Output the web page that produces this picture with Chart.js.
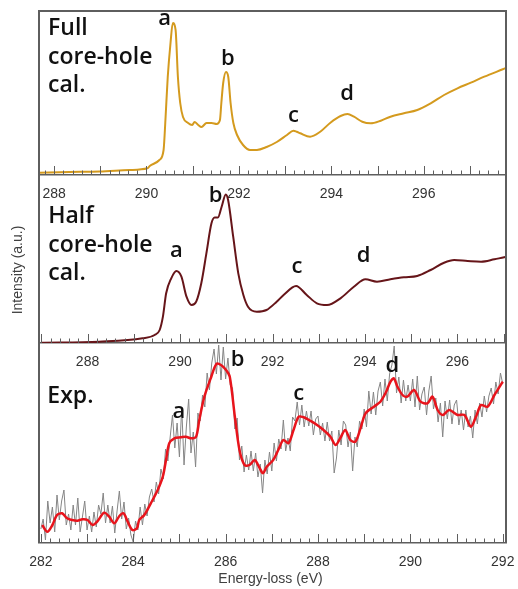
<!DOCTYPE html>
<html>
<head>
<meta charset="utf-8">
<script src="https://cdn.jsdelivr.net/npm/chart.js@4.4.1/dist/chart.umd.min.js"></script>
<style>
  html, body { margin: 0; padding: 0; background: #fff; }
  #wrap { position: relative; width: 518px; height: 589px; }
  canvas { display: block; }
</style>
</head>
<body>
<div id="wrap"><canvas id="chart" width="518" height="589"></canvas></div>
<script>
// ---- Full core-hole calculation (energy in eV, intensity in a.u.) ----
const fullEnergy = [287.67, 288.33, 288.98, 289.63, 290.02, 290.07, 290.28, 290.37, 290.41, 290.46,
  290.52, 290.57, 290.63, 290.68, 290.73, 290.79, 290.90, 290.99, 291.04, 291.12,
  291.19, 291.30, 291.41, 291.52, 291.59, 291.62, 291.66, 291.72, 291.77, 291.82,
  291.88, 291.96, 292.09, 292.24, 292.39, 292.60, 292.82, 293.04, 293.18, 293.25,
  293.33, 293.54, 293.76, 293.98, 294.20, 294.35, 294.49, 294.67, 294.85, 295.07,
  295.28, 295.57, 295.86, 296.15, 296.44, 296.73, 297.02, 297.31, 297.71, 297.78];
const fullIntensity = [0.023, 0.03, 0.035, 0.05, 0.067, 0.09, 0.15, 0.25, 0.55, 0.98,
  1.32, 1.52, 1.45, 0.98, 0.72, 0.58, 0.52, 0.50, 0.53, 0.50,
  0.48, 0.52, 0.52, 0.51, 0.55, 0.72, 0.92, 1.03, 0.98, 0.72,
  0.52, 0.40, 0.30, 0.25, 0.25, 0.28, 0.33, 0.40, 0.443, 0.433,
  0.417, 0.383, 0.433, 0.523, 0.59, 0.61, 0.583, 0.533, 0.517, 0.543,
  0.583, 0.617, 0.65, 0.717, 0.80, 0.867, 0.923, 0.983, 1.057, 1.07];

// ---- Half core-hole calculation ----
const halfEnergy = [286.99, 288.25, 289.19, 289.45, 289.56, 289.63, 289.70, 289.81, 289.92, 290.03,
  290.14, 290.25, 290.35, 290.46, 290.57, 290.68, 290.75, 290.82, 290.90, 290.99,
  291.04, 291.15, 291.26, 291.37, 291.47, 291.66, 291.87, 292.09, 292.24, 292.51,
  292.74, 292.96, 293.18, 293.47, 293.76, 294.01, 294.26, 294.55, 294.84, 295.13,
  295.42, 295.71, 295.93, 296.22, 296.51, 296.80, 297.01, 297.05];
const halfIntensity = [0.003, 0.013, 0.047, 0.08, 0.13, 0.263, 0.497, 0.647, 0.72, 0.663,
  0.463, 0.38, 0.413, 0.597, 0.897, 1.197, 1.255, 1.255, 1.363, 1.485,
  1.43, 1.063, 0.697, 0.48, 0.363, 0.313, 0.33, 0.413, 0.48, 0.57,
  0.48, 0.397, 0.38, 0.447, 0.563, 0.637, 0.613, 0.637, 0.657, 0.67,
  0.73, 0.803, 0.83, 0.82, 0.813, 0.837, 0.857, 0.86];

// ---- Experiment: smoothed spectrum ----
const expSmoothEnergy = [282.03, 282.14, 282.25, 282.35, 282.46, 282.57, 282.68, 282.79, 282.90, 283.01,
  283.12, 283.22, 283.37, 283.48, 283.59, 283.70, 283.79, 283.88, 283.98, 284.08,
  284.13, 284.24, 284.38, 284.53, 284.64, 284.71, 284.78, 284.89, 285.03, 285.14,
  285.25, 285.36, 285.43, 285.54, 285.69, 285.80, 285.90, 286.01, 286.09, 286.20,
  286.30, 286.41, 286.52, 286.63, 286.74, 286.81, 286.89, 287.03, 287.14, 287.25,
  287.36, 287.47, 287.58, 287.69, 287.83, 287.98, 288.12, 288.27, 288.38, 288.48,
  288.59, 288.70, 288.81, 288.92, 289.03, 289.21, 289.35, 289.46, 289.57, 289.64,
  289.72, 289.83, 289.93, 290.08, 290.22, 290.37, 290.48, 290.59, 290.70, 290.84,
  291.02, 291.17, 291.31, 291.42, 291.53, 291.67, 291.82, 292.00];
const expSmoothIntensity = [0.18, 0.113, 0.18, 0.28, 0.297, 0.247, 0.23, 0.223, 0.237, 0.23,
  0.18, 0.213, 0.303, 0.263, 0.197, 0.27, 0.297, 0.213, 0.13, 0.147,
  0.23, 0.28, 0.397, 0.53, 0.663, 0.83, 0.997, 1.047, 1.057, 1.063,
  1.047, 1.063, 1.23, 1.463, 1.663, 1.79, 1.78, 1.73, 1.663, 1.263,
  0.93, 0.78, 0.78, 0.83, 0.747, 0.697, 0.763, 0.83, 0.93, 1.03,
  0.997, 1.13, 1.263, 1.257, 1.223, 1.18, 1.13, 1.063, 0.98, 1.047,
  1.13, 1.03, 1.013, 1.147, 1.297, 1.363, 1.413, 1.497, 1.613, 1.647,
  1.563, 1.48, 1.463, 1.53, 1.413, 1.397, 1.463, 1.33, 1.28, 1.33,
  1.28, 1.28, 1.163, 1.263, 1.38, 1.363, 1.48, 1.613];

// ---- Experiment: raw spectrum, sampled every 0.05 eV from 282 eV ----
const expRawStart = 282.0;
const expRawStep = 0.05;
const expRawIntensity = [
  0.14, 0.24, 0.03, 0.42, 0.20, 0.36, 0.11, 0.48, 0.23, 0.42,
  0.53, 0.18, 0.29, 0.13, 0.38, 0.18, 0.45, 0.11, 0.26, 0.42,
  0.13, 0.27, 0.11, 0.31, 0.16, 0.38, 0.29, 0.50, 0.20, 0.38,
  0.20, 0.37, 0.10, 0.32, 0.52, 0.24, 0.41, 0.14, 0.25, 0.08,
  0.01, 0.22, 0.13, 0.36, 0.18, 0.39, 0.27, 0.46, 0.54, 0.41,
  0.61, 0.49, 0.74, 0.64, 0.94, 0.82, 1.06, 1.28, 0.95, 1.20,
  0.86, 1.36, 0.78, 1.16, 1.44, 0.90, 1.11, 0.76, 1.30, 1.22,
  1.48, 1.36, 1.70, 1.53, 1.80, 1.94, 1.69, 1.98, 1.63, 1.96,
  1.64, 1.85, 1.58, 1.55, 1.14, 1.25, 0.83, 0.97, 0.71, 0.88,
  0.73, 0.92, 0.72, 0.90, 0.66, 0.79, 0.50, 0.83, 0.69, 0.91,
  0.72, 1.00, 0.82, 1.04, 0.94, 1.23, 0.92, 1.05, 0.92, 1.26,
  1.22, 1.41, 1.18, 1.38, 1.16, 1.32, 1.17, 1.32, 1.08, 1.24,
  1.27, 1.08, 1.20, 1.02, 1.21, 1.02, 1.12, 0.70, 0.85, 1.13,
  0.98, 1.22, 1.18, 0.96, 1.11, 0.72, 1.06, 0.96, 1.22, 1.14,
  1.34, 1.16, 1.52, 1.29, 1.51, 1.28, 1.52, 1.61, 1.37, 1.64,
  1.42, 1.69, 1.78, 1.97, 1.50, 1.66, 1.40, 1.63, 1.42, 1.58,
  1.42, 1.64, 1.36, 1.67, 1.33, 1.49, 1.56, 1.28, 1.52, 1.67,
  1.34, 1.45, 1.21, 1.40, 1.06, 1.42, 1.24, 1.43, 1.19, 1.38,
  1.43, 1.18, 1.33, 1.13, 1.33, 1.16, 1.27, 1.05, 1.33, 1.19,
  1.40, 1.26, 1.47, 1.31, 1.47, 1.55, 1.39, 1.61, 1.49, 1.70,
  1.59];

// ---- Axis tick labels ----
const calcTicks = [288, 290, 292, 294, 296];
const expTicks = [282, 284, 286, 288, 290, 292];

// ---- Text ----
const panelTitles = [['Full', 'core-hole', 'cal.'], ['Half', 'core-hole', 'cal.'], ['Exp.']];
const peakLetters = ['a', 'b', 'c', 'd'];
const xTitle = 'Energy-loss (eV)';
const yTitle = 'Intensity (a.u.)';

// Where each panel's text sits, in that panel's data units
const panelLayout = [
  { x: 'xTop', y: 'yTop', title: [287.87, 1.40],
    peaks: [[290.39, 1.50], [291.76, 1.10], [293.18, 0.533], [294.34, 0.75]] },
  { x: 'xMid', y: 'yMid', title: [287.15, 1.197],
    peaks: [[289.92, 0.863], [290.77, 1.413], [292.53, 0.697], [293.97, 0.813]] },
  { x: 'xBot', y: 'yBot', title: [282.14, 1.397],
    peaks: [[284.99, 1.247], [286.26, 1.77], [287.58, 1.43], [289.61, 1.713]] }
];

const pairs = (xs, ys) => xs.map((x, i) => ({ x, y: ys[i] }));
const rawPoints = expRawIntensity.map((v, i) => ({ x: expRawStart + i * expRawStep, y: v }));

const FRAME = '#5e5e5e';
const TEXT_FONT = '"Open Sans", "DejaVu Sans", sans-serif';
const AXIS_FONT = '"Liberation Sans", Arial, sans-serif';

// Frame, inward tick marks, panel captions, peak letters and axis titles
const decorations = {
  id: 'decorations',
  afterDraw(chart) {
    const ctx = chart.ctx;
    const area = chart.chartArea;
    ctx.save();

    // tick marks pointing up from each panel's baseline
    ['xTop', 'xMid', 'xBot'].forEach((id, p) => {
      const sx = chart.scales[id];
      const sy = chart.scales[panelLayout[p].y];
      const base = sy.getPixelForValue(0);
      ctx.strokeStyle = FRAME;
      ctx.lineWidth = 1;
      const k0 = Math.ceil(sx.min * 5 - 1e-6);
      const k1 = Math.floor(sx.max * 5 + 1e-6);
      for (let k = k0; k <= k1; k++) {
        const px = Math.round(sx.getPixelForValue(k / 5)) + 0.5;
        const len = (k % 5 === 0) ? 9 : 4.5;
        ctx.beginPath();
        ctx.moveTo(px, base);
        ctx.lineTo(px, base - len);
        ctx.stroke();
      }
    });

    // outer frame (left, top, right)
    ctx.strokeStyle = FRAME;
    ctx.lineWidth = 2;
    ctx.beginPath();
    ctx.moveTo(area.left, area.bottom);
    ctx.lineTo(area.left, area.top);
    ctx.lineTo(area.right, area.top);
    ctx.lineTo(area.right, area.bottom);
    ctx.stroke();

    // panel captions and peak letters
    ctx.fillStyle = '#111';
    ctx.textAlign = 'left';
    ctx.textBaseline = 'alphabetic';
    panelLayout.forEach((pl, p) => {
      const sx = chart.scales[pl.x];
      const sy = chart.scales[pl.y];
      ctx.font = '600 23px ' + TEXT_FONT;
      const tx = sx.getPixelForValue(pl.title[0]);
      const ty = sy.getPixelForValue(pl.title[1]);
      panelTitles[p].forEach((line, i) => ctx.fillText(line, tx, ty + i * 28.5));
      ctx.font = '600 22px ' + TEXT_FONT;
      ctx.textAlign = 'center';
      pl.peaks.forEach((pos, i) => {
        ctx.fillText(peakLetters[i], sx.getPixelForValue(pos[0]), sy.getPixelForValue(pos[1]));
      });
      ctx.textAlign = 'left';
    });

    // axis titles
    ctx.fillStyle = '#404040';
    ctx.font = '14px ' + AXIS_FONT;
    ctx.textAlign = 'center';
    ctx.textBaseline = 'middle';
    ctx.fillText(xTitle, (area.left + area.right) / 2 - 2, area.bottom + 36);
    ctx.translate(area.left - 21, (area.top + area.bottom) / 2 - 7);
    ctx.rotate(-Math.PI / 2);
    ctx.fillText(yTitle, 0, 0);
    ctx.restore();
  }
};

// Each x axis sits on its panel's baseline; the invisible tick length gives the label offset
function xAxis(panelY, min, max, labels) {
  return {
    type: 'linear',
    position: { [panelY]: 0 },
    min, max,
    afterBuildTicks: (scale) => { scale.ticks = labels.map(v => ({ value: v })); },
    grid: { display: true, drawOnChartArea: false, drawTicks: true, tickLength: 11, color: 'rgba(0,0,0,0)' },
    border: { display: true, color: FRAME, width: 1.5 },
    ticks: {
      autoSkip: false, maxRotation: 0, padding: 0,
      color: '#333',
      font: { family: AXIS_FONT, size: 14 },
      callback: (v) => String(v)
    }
  };
}

new Chart(document.getElementById('chart'), {
  type: 'line',
  data: {
    datasets: [
      { label: 'Full core-hole cal.', data: pairs(fullEnergy, fullIntensity),
        xAxisID: 'xTop', yAxisID: 'yTop', borderColor: '#d49a1e', borderWidth: 2,
        pointRadius: 0, cubicInterpolationMode: 'monotone', fill: false },
      { label: 'Half core-hole cal.', data: pairs(halfEnergy, halfIntensity),
        xAxisID: 'xMid', yAxisID: 'yMid', borderColor: '#661519', borderWidth: 2,
        pointRadius: 0, cubicInterpolationMode: 'monotone', fill: false },
      { label: 'Exp. smoothed', data: pairs(expSmoothEnergy, expSmoothIntensity),
        xAxisID: 'xBot', yAxisID: 'yBot', borderColor: '#e8141c', borderWidth: 2.5,
        pointRadius: 0, tension: 0.3, fill: false },
      { label: 'Exp.', data: rawPoints,
        xAxisID: 'xBot', yAxisID: 'yBot', borderColor: '#858585', borderWidth: 1,
        pointRadius: 0, tension: 0, fill: false }
    ]
  },
  options: {
    responsive: false,
    animation: false,
    devicePixelRatio: 1,
    layout: { padding: { left: 39, right: 12, top: 11, bottom: 46 } },
    plugins: { legend: { display: false }, tooltip: { enabled: false } },
    scales: {
      yBot: { type: 'linear', display: false, min: 0, max: 2.0, stack: 'panels', stackWeight: 200, weight: 1 },
      yMid: { type: 'linear', display: false, min: 0, max: 1.68, stack: 'panels', stackWeight: 168, weight: 2 },
      yTop: { type: 'linear', display: false, min: 0, max: 1.64, stack: 'panels', stackWeight: 164, weight: 3 },
      xTop: xAxis('yTop', 287.674, 297.78, calcTicks),
      xMid: xAxis('yMid', 286.95, 297.05, calcTicks),
      xBot: xAxis('yBot', 281.96, 292.07, expTicks)
    }
  },
  plugins: [decorations]
});
</script>
</body>
</html>
